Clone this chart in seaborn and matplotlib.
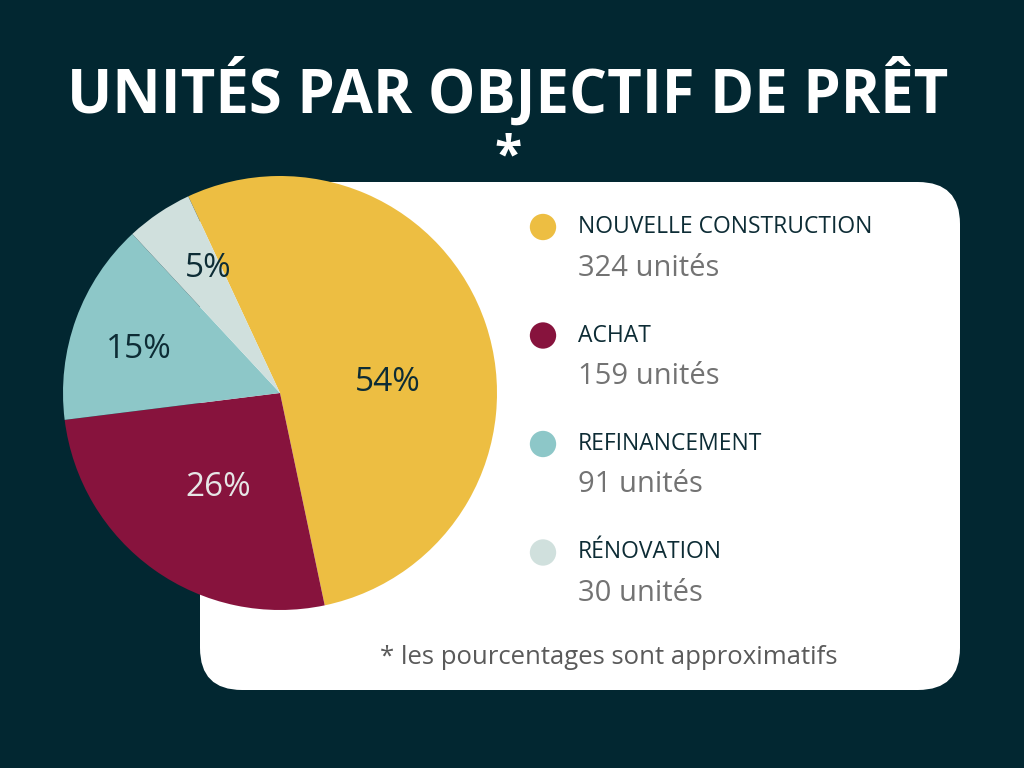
import matplotlib
matplotlib.use("Agg")
import numpy as np
import matplotlib.pyplot as plt
import seaborn as sns
from matplotlib.patches import FancyBboxPatch

# données
categories = ["NOUVELLE CONSTRUCTION", "ACHAT", "REFINANCEMENT", "RÉNOVATION"]
unites = [324, 159, 91, 30]
etiquettes_unites = ["324 unités", "159 unités", "91 unités", "30 unités"]

# style
fond = "#022731"
texte_fonce = "#0d2c35"
gris = "#737373"
couleurs = sns.color_palette(["#edbe42", "#87133d", "#8dc7c8", "#d0e0dd"])
couleurs_pct = [texte_fonce, "#e6e6e6", texte_fonce, texte_fonce]

sns.set_style("white")
plt.rcParams["font.family"] = ["Open Sans", "DejaVu Sans"]

fig = plt.figure(figsize=(10.24, 7.68), dpi=100, facecolor=fond)

# calque de fond en pixels
bg = fig.add_axes([0, 0, 1, 1])
bg.set_xlim(0, 1024)
bg.set_ylim(768, 0)
bg.axis("off")
bg.set_facecolor(fond)

carte = FancyBboxPatch((200, 182), 760, 508,
                       boxstyle="round,pad=0,rounding_size=42",
                       facecolor="white", edgecolor="none")
bg.add_patch(carte)

bg.text(508, 93, "UNITÉS PAR OBJECTIF DE PRÊT", color="white", fontsize=43,
        fontweight="bold", ha="center", va="center")
bg.text(508, 170, "*", color="white", fontsize=36, fontweight="bold",
        ha="center", va="baseline")

# légende
for i, (cat, lab) in enumerate(zip(categories, etiquettes_unites)):
    y = 227 + i * 108.5
    bg.scatter(543, y, s=360, color=couleurs[i], edgecolors="none")
    bg.text(578, y, cat, color=texte_fonce, fontsize=16.5, ha="left", va="center")
    bg.text(578, y + 41, lab, color=gris, fontsize=21, ha="left", va="center")

bg.text(609, 657, "* les pourcentages sont approximatifs", color="#5a5a5a",
        fontsize=18.5, ha="center", va="center")

# camembert
cx, cy, r = 280, 393, 217
ax = fig.add_axes([(cx - r) / 1024, (768 - cy - r) / 768, 2 * r / 1024, 2 * r / 768])
wedges, _ = ax.pie(unites, colors=couleurs, startangle=115, counterclock=False,
                   radius=1, wedgeprops=dict(linewidth=0))
ax.set_xlim(-1, 1)
ax.set_ylim(-1, 1)
ax.axis("off")

total = sum(unites)
dist_lbl = [0.5, 0.52, 0.68, 0.66]
decal_angle = [-13, 2, 3, -4]
for w, v, d, da, c in zip(wedges, unites, dist_lbl, decal_angle, couleurs_pct):
    ang = np.deg2rad((w.theta1 + w.theta2) / 2 + da)
    ax.text(d * np.cos(ang), d * np.sin(ang), f"{round(100 * v / total)}%",
            color=c, fontsize=24, ha="center", va="center")

fig.savefig("out.png", dpi=100, facecolor=fond)
